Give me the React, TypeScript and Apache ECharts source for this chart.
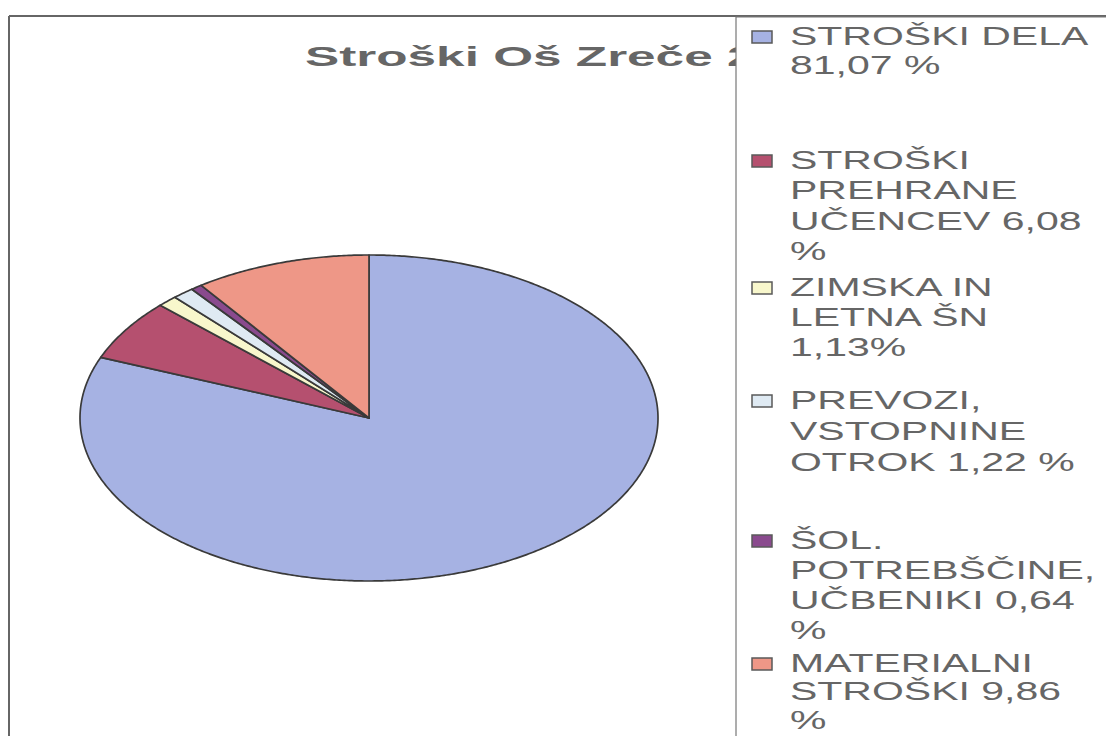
import { useEffect, useRef } from "react";
import * as echarts from "echarts";

// ---- data ----
const title = "Stroški Oš Zreče 2";
const categories = [
  "STROŠKI DELA",
  "STROŠKI PREHRANE UČENCEV",
  "ZIMSKA IN LETNA ŠN",
  "PREVOZI, VSTOPNINE OTROK",
  "ŠOL. POTREBŠČINE, UČBENIKI",
  "MATERIALNI STROŠKI",
];
const values = [81.07, 6.08, 1.13, 1.22, 0.64, 9.86];
const legendLabels = [
  "STROŠKI DELA\n81,07 %",
  "STROŠKI\nPREHRANE\nUČENCEV 6,08\n%",
  "ZIMSKA IN\nLETNA ŠN\n1,13%",
  "PREVOZI,\nVSTOPNINE\nOTROK 1,22 %",
  "ŠOL.\nPOTREBŠČINE,\nUČBENIKI 0,64\n%",
  "MATERIALNI\nSTROŠKI 9,86\n%",
];
const colors = ["#a6b2e3", "#b5506f", "#f8f7cc", "#dfeaf3", "#8a4a8e", "#ee9787"];

// ---- layout ----
const CX = 369;
const CY = 418;
const RX = 289;
const RY = 163;
const LEGEND_LINE_Y = [36, 160, 287, 400, 540, 663];
const LEGEND_LH = [29, 30.5, 30, 31, 30, 28.5];

export default function App() {
  const ref = useRef<HTMLDivElement>(null);

  useEffect(() => {
    if (!ref.current) return;
    const chart = echarts.init(ref.current, null, { renderer: "svg" });

    const total = values.reduce((a, b) => a + b, 0);
    let acc = 0;
    const data = values.map((v, i) => {
      const s = acc / total;
      acc += v;
      return { name: categories[i], value: [s, acc / total, v] };
    });

    const legendChildren: any[] = [];
    legendLabels.forEach((lab, i) => {
      const yc = LEGEND_LINE_Y[i];
      const lh = LEGEND_LH[i];
      legendChildren.push({
        type: "rect",
        shape: { x: 752, y: yc - 5, width: 20, height: 12 },
        style: { fill: colors[i], stroke: "#5a5a5a", lineWidth: 1.5 },
      });
      legendChildren.push({
        type: "group",
        x: 790,
        y: 0,
        scaleX: 1.64,
        children: [
          {
            type: "text",
            x: 0,
            y: yc - lh / 2,
            style: {
              text: lab,
              fontFamily: "'Liberation Sans', Arial, sans-serif",
              fontSize: 25,
              lineHeight: lh,
              fill: "#666666",
              align: "left",
              verticalAlign: "top",
            },
          },
        ],
      });
    });

    chart.setOption({
      animation: false,
      backgroundColor: "#ffffff",
      graphic: [
        // outer frame
        {
          type: "line",
          shape: { x1: 9, y1: 16, x2: 9, y2: 740 },
          style: { stroke: "#666666", lineWidth: 2 },
        },
        {
          type: "line",
          shape: { x1: 9, y1: 16, x2: 1110, y2: 16 },
          style: { stroke: "#666666", lineWidth: 2 },
        },
        // title
        {
          type: "group",
          x: 305,
          y: 0,
          scaleX: 1.9,
          children: [
            {
              type: "text",
              x: 0,
              y: 57,
              style: {
                text: title,
                fontFamily: "'Liberation Sans', Arial, sans-serif",
                fontWeight: "bold",
                fontSize: 27,
                fill: "#666666",
                align: "left",
                verticalAlign: "middle",
              },
            },
          ],
        },
        // legend box
        {
          type: "rect",
          shape: { x: 736, y: 17, width: 380, height: 730 },
          style: { fill: "#ffffff", stroke: "#777777", lineWidth: 1.2 },
        },
        ...legendChildren,
      ],
      series: [
        {
          type: "custom",
          coordinateSystem: "none",
          data,
          renderItem: (params: any, api: any) => {
            const a0 = api.value(0) * 2 * Math.PI;
            const a1 = api.value(1) * 2 * Math.PI;
            const pts: number[][] = [[CX, CY]];
            const n = Math.max(2, Math.ceil((a1 - a0) / (Math.PI / 360)));
            for (let k = 0; k <= n; k++) {
              const a = a0 + ((a1 - a0) * k) / n;
              pts.push([CX + RX * Math.sin(a), CY - RY * Math.cos(a)]);
            }
            return {
              type: "polygon",
              shape: { points: pts },
              style: {
                fill: colors[params.dataIndex],
                stroke: "#3a3a3a",
                lineWidth: 1.7,
                lineJoin: "round",
              },
            };
          },
        },
      ],
    });

    return () => chart.dispose();
  }, []);

  return (
    <div
      ref={ref}
      style={{ position: "fixed", left: 0, top: 0, width: 1106, height: 736 }}
    />
  );
}
